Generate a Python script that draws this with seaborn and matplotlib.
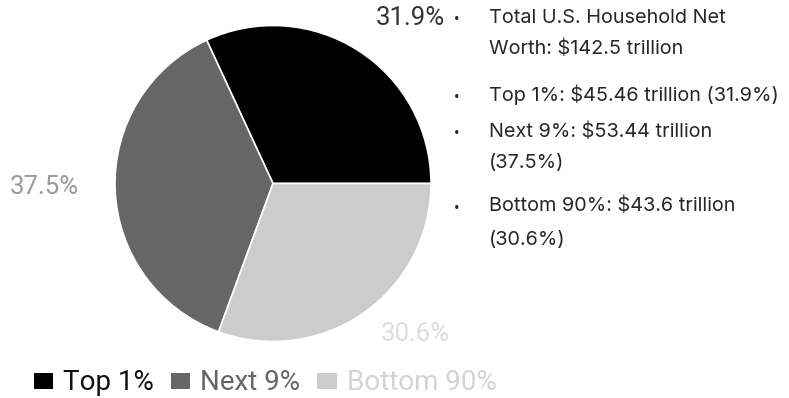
import matplotlib
matplotlib.use("Agg")
import matplotlib.pyplot as plt
from matplotlib.patches import Patch
import seaborn as sns

# Share of U.S. household net worth
groups = ["Top 1%", "Next 9%", "Bottom 90%"]
shares = [31.9, 37.5, 30.6]
trillions = [45.46, 53.44, 43.6]
total_trillions = 142.5

slice_colors = ["#000000", "#666666", "#cccccc"]
label_colors = ["#333333", "#9a9a9a", "#dddddd"]
legend_text_colors = ["#111111", "#666666", "#d4d4d4"]

sns.set_theme(style="white")
plt.rcParams["font.family"] = ["Roboto", "DejaVu Sans"]

W, H = 789, 398
fig = plt.figure(figsize=(W / 100, H / 100), dpi=100)

# pie axes placed in pixel terms: centre (273, 183), radius ~158 px
cx, cy, r = 273, 183.5, 158
ax = fig.add_axes([(cx - r) / W, 1 - (cy + r) / H, 2 * r / W, 2 * r / H])
ax.pie(
    shares,
    colors=slice_colors,
    startangle=0,
    counterclock=True,
    radius=1,
    wedgeprops=dict(edgecolor="white", linewidth=1.2),
)
ax.set_xlim(-1, 1)
ax.set_ylim(-1, 1)
ax.set_axis_off()

# percentage labels outside the pie
label_pos = [(0.87, 1.045), (-1.45, -0.02), (0.9, -0.95)]
for val, (lx, ly), col in zip(shares, label_pos, label_colors):
    ax.text(lx, ly, f"{val:.1f}%", color=col, fontsize=18.5,
            ha="center", va="center", clip_on=False)

# bullet list on the right
text_color = "#262626"
tfont = dict(family=["Inter", "DejaVu Sans"], fontsize=14.3, color=text_color)
bullet_x = 457 / W
text_x = 489 / W

items = [
    (["Total U.S. Household Net", f"Worth: ${total_trillions} trillion"], [18, 49]),
    ([f"{groups[0]}: ${trillions[0]} trillion ({shares[0]}%)"], [95]),
    ([f"{groups[1]}: ${trillions[1]} trillion", f"({shares[1]}%)"], [132, 163]),
    ([f"{groups[2]}: ${trillions[2]} trillion", f"({shares[2]}%)"], [206, 240]),
]
for lines, ys in items:
    fig.text(bullet_x, 1 - (ys[0] + 2) / H, "•", ha="center", va="center",
             fontsize=12, color=text_color)
    for line, y in zip(lines, ys):
        fig.text(text_x, 1 - y / H, line, ha="left", va="center", **tfont)

# legend along the bottom
handles = [Patch(facecolor=c, edgecolor="none") for c in slice_colors]
leg = fig.legend(
    handles, groups,
    loc="center left",
    bbox_to_anchor=(34 / W, 1 - 383 / H),
    ncol=3, frameon=False,
    fontsize=20,
    handlelength=0.7, handleheight=0.5,
    handletextpad=0.36, columnspacing=0.6,
    borderpad=0, borderaxespad=0,
)
for txt, col in zip(leg.get_texts(), legend_text_colors):
    txt.set_color(col)

fig.savefig("out.png", dpi=100, facecolor="white")
